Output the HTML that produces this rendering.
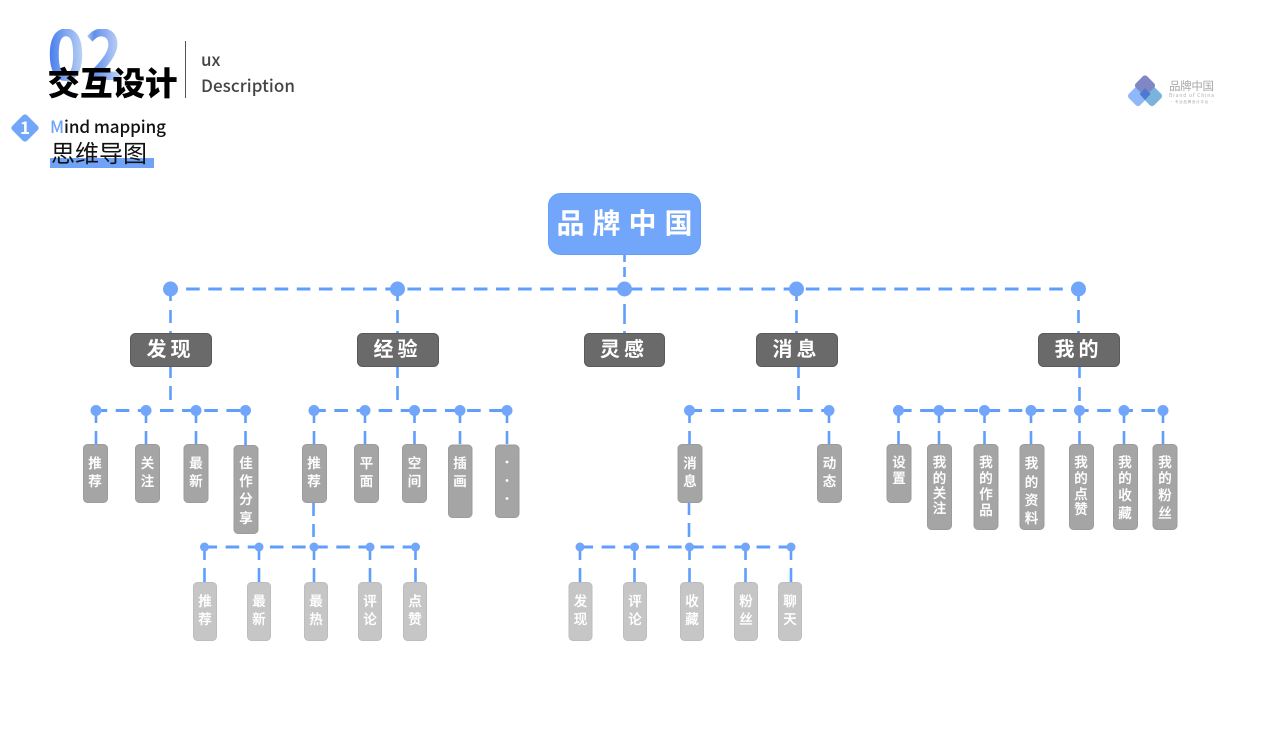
<!DOCTYPE html>
<html lang="zh"><head><meta charset="utf-8"><title>交互设计</title>
<style>
html,body{margin:0;padding:0;background:#fff;width:1280px;height:744px;overflow:hidden}
svg{display:block}
text{font-family:"Noto Sans CJK SC","Liberation Sans",sans-serif}
.d{stroke:#5f9ffb;stroke-width:3;fill:none;stroke-dasharray:13.6 8.53}
.v{stroke:#5f9ffb;stroke-width:2.6;fill:none}
.c{fill:#71a6fa}
.l1{fill:#6a6a6a;stroke:#5a5a5a;stroke-width:1}
.l2{fill:#a5a5a5;stroke:#9c9c9c;stroke-width:1}
.l3{fill:#c6c6c6;stroke:#bdbdbd;stroke-width:1}
.t1{fill:#fff;font-size:20px;font-weight:700;text-anchor:middle;letter-spacing:4px}
.t{fill:#fff;stroke:#fff;stroke-width:.2;font-size:13.5px;font-weight:500;text-anchor:middle}
</style></head><body>
<svg width="1280" height="744" viewBox="0 0 1280 744" xmlns="http://www.w3.org/2000/svg">
<defs>
<linearGradient id="g" x1="0" y1="0" x2="1" y2="0"><stop offset="0" stop-color="#3f78ee"/><stop offset=".5" stop-color="#c3d6f3"/><stop offset=".62" stop-color="#5f8fec"/><stop offset="1" stop-color="#cfdcf5"/></linearGradient>
<clipPath id="cl"><rect x="40" y="29" width="90" height="60"/></clipPath>
</defs>

<!-- header -->
<g clip-path="url(#cl)"><text x="47" y="80" font-size="68" font-weight="700" fill="url(#g)" textLength="76" lengthAdjust="spacingAndGlyphs">02</text></g>
<text x="47.500" y="95" font-size="32.500" font-weight="900" fill="#000">交互设计</text>
<rect x="185" y="41" width="1" height="57" fill="#555"/>
<text x="201" y="66" font-size="17" font-weight="500" fill="#444">ux</text>
<text x="201" y="92" font-size="17" font-weight="500" fill="#444" textLength="94">Description</text>
<rect x="14.500" y="117.500" width="21" height="21" rx="3" fill="#71a6fa" transform="rotate(45 25 128)"/>
<text x="25" y="134" font-size="17" font-weight="700" fill="#fff" text-anchor="middle">1</text>
<rect x="50" y="158" width="104" height="10" fill="#6fa3f7"/>
<text x="50" y="133" font-size="17" font-weight="500" fill="#111" textLength="116"><tspan fill="#6fa3f7">M</tspan>ind mapping</text>
<text x="51" y="162" font-size="24" font-weight="400" fill="#111">思维导图</text>

<!-- logo -->
<g>
<rect x="1130" y="88" width="16" height="16" rx="3" fill="#8fb8fb" transform="rotate(45 1138 96)"/>
<rect x="1144" y="88" width="16" height="16" rx="3" fill="#7ab3dc" transform="rotate(45 1152 96)"/>
<rect x="1137" y="77.500" width="16" height="16" rx="3" fill="#7f88c4" transform="rotate(45 1145 85.500)"/>
<path d="M1145 88 L1150.500 94 L1145 100 L1139.500 94Z" fill="#4f78d0"/>
<text x="1169" y="90" font-size="11.500" fill="#a8a8a8" textLength="45">品牌中国</text>
<text x="1169" y="97" font-size="5" fill="#b0b0b0" textLength="45">Brand of China</text>
<text x="1191.500" y="103" font-size="3.500" fill="#aaa" text-anchor="middle" textLength="45">— 专业品牌设计平台 —</text>
</g>

<!-- connectors L0 -->
<path class="d" d="M164 289H1078"/>
<path class="v" d="M624.500 255V262M624.500 267V277M624.500 304V324M624.500 331V333"/>
<path class="v" d="M170.500 296V301M170.500 310V323M170.500 331V333M397.500 296V301M397.500 310V323M397.500 331V333M796.500 296V301M796.500 310V323M796.500 331V333M1078.500 296V301M1078.500 310V323M1078.500 331V333"/>
<g class="c">
<circle cx="170.500" cy="289" r="7.500"/><circle cx="397.500" cy="289" r="7.500"/><circle cx="624.500" cy="289" r="7.500"/><circle cx="796.500" cy="289" r="7.500"/><circle cx="1078.500" cy="289" r="7.500"/>
</g>

<!-- root -->
<rect x="548.500" y="193.500" width="152" height="61" rx="12" fill="#71a6fa" stroke="#64a0fb"/>
<text x="628.500" y="233" font-size="28" font-weight="700" fill="#fff" text-anchor="middle" letter-spacing="8">品牌中国</text>

<!-- L1 -->
<rect class="l1" x="130.500" y="333.500" width="81" height="33" rx="5"/>
<rect class="l1" x="357.500" y="333.500" width="81" height="33" rx="5"/>
<rect class="l1" x="584.500" y="333.500" width="80" height="33" rx="5"/>
<rect class="l1" x="756.500" y="333.500" width="81" height="33" rx="5"/>
<rect class="l1" x="1038.500" y="333.500" width="81" height="33" rx="5"/>
<text class="t1" x="170.500" y="356">发现</text>
<text class="t1" x="397.500" y="356">经验</text>
<text class="t1" x="624" y="356">灵感</text>
<text class="t1" x="796.500" y="356">消息</text>
<text class="t1" x="1078.500" y="356">我的</text>

<!-- L1 to L2 stems -->
<path class="v" d="M170.500 367V378M170.500 386V400M397.500 367V378M397.500 386V400M798.500 367V378M798.500 386V400M1079.500 367V378M1079.500 387V401"/>

<!-- L2 lines -->
<path class="d" d="M93.600 410.500H246"/>
<path class="d" d="M312.200 410.500H507"/>
<path class="d" d="M688.500 410.500H829"/>
<path class="d" d="M898 410.500H1163"/>
<path class="v" d="M96 411V423M96 431V444M146 411V423M146 431V444M196 411V423M196 431V444M245.500 411V423M245.500 431V445M314 411V423M314 431V444M365 411V423M365 431V444M414.500 411V423M414.500 431V444M460 411V423M460 431V444M507 411V423M507 431V444M689.500 411V423M689.500 431V444M829 411V423M829 431V444M898.500 411V423M898.500 431V444M939 411V423M939 431V444M984.500 411V423M984.500 431V444M1031 411V423M1031 431V444M1079.500 411V423M1079.500 431V444M1124 411V423M1124 431V444M1163 411V423M1163 431V444"/>
<g class="c">
<circle cx="96" cy="410.500" r="5.500"/><circle cx="146" cy="410.500" r="5.500"/><circle cx="196" cy="410.500" r="5.500"/><circle cx="245.500" cy="410.500" r="5.500"/>
<circle cx="314" cy="410.500" r="5.500"/><circle cx="365" cy="410.500" r="5.500"/><circle cx="414.500" cy="410.500" r="5.500"/><circle cx="460" cy="410.500" r="5.500"/><circle cx="507" cy="410.500" r="5.500"/>
<circle cx="689.500" cy="410.500" r="5.500"/><circle cx="829" cy="410.500" r="5.500"/>
<circle cx="898.500" cy="410.500" r="5.500"/><circle cx="939" cy="410.500" r="5.500"/><circle cx="984.500" cy="410.500" r="5.500"/><circle cx="1031" cy="410.500" r="5.500"/><circle cx="1079.500" cy="410.500" r="5.500"/><circle cx="1124" cy="410.500" r="5.500"/><circle cx="1163" cy="410.500" r="5.500"/>
</g>

<!-- L2 boxes -->
<g class="l2">
<rect x="83.500" y="444.500" width="24" height="58" rx="4"/><rect x="135.500" y="444.500" width="24" height="58" rx="4"/><rect x="184" y="444.500" width="24" height="58" rx="4"/><rect x="234" y="445.500" width="24" height="88" rx="4"/>
<rect x="302.500" y="444.500" width="24" height="58" rx="4"/><rect x="354.500" y="444.500" width="24" height="58" rx="4"/><rect x="402.500" y="444.500" width="24" height="58" rx="4"/><rect x="448.500" y="445" width="23.500" height="72.500" rx="4"/><rect x="495.500" y="445" width="23.500" height="72.500" rx="4"/>
<rect x="678" y="444.500" width="24" height="58" rx="4"/><rect x="817.500" y="444.500" width="24" height="58" rx="4"/>
<rect x="887" y="444.500" width="24" height="58" rx="4"/><rect x="927.500" y="444.500" width="24" height="85" rx="4"/><rect x="974" y="444.500" width="24" height="85" rx="4"/><rect x="1020" y="444.500" width="24" height="85" rx="4"/><rect x="1069.500" y="444.500" width="24" height="85" rx="4"/><rect x="1113.500" y="444.500" width="24" height="85" rx="4"/><rect x="1153" y="444.500" width="24" height="85" rx="4"/>
</g>
<text class="t"><tspan x="95" y="468">推</tspan><tspan x="95" y="486">荐</tspan></text>
<text class="t"><tspan x="147.500" y="468">关</tspan><tspan x="147.500" y="486">注</tspan></text>
<text class="t"><tspan x="196" y="468">最</tspan><tspan x="196" y="486">新</tspan></text>
<text class="t"><tspan x="246" y="468">佳</tspan><tspan x="246" y="486">作</tspan><tspan x="246" y="504">分</tspan><tspan x="246" y="523">享</tspan></text>
<text class="t"><tspan x="314" y="468">推</tspan><tspan x="314" y="486">荐</tspan></text>
<text class="t"><tspan x="366.500" y="468">平</tspan><tspan x="366.500" y="486">面</tspan></text>
<text class="t"><tspan x="414.500" y="468">空</tspan><tspan x="414.500" y="486">间</tspan></text>
<text class="t"><tspan x="460" y="468">插</tspan><tspan x="460" y="486">画</tspan></text>
<g fill="#fff"><circle cx="507" cy="462" r="1.400"/><circle cx="507" cy="480.500" r="1.400"/><circle cx="507" cy="498.500" r="1.400"/></g>
<text class="t"><tspan x="690" y="468">消</tspan><tspan x="690" y="486">息</tspan></text>
<text class="t"><tspan x="829.500" y="468">动</tspan><tspan x="829.500" y="486">态</tspan></text>
<text class="t"><tspan x="899" y="467">设</tspan><tspan x="899" y="483">置</tspan></text>
<text class="t"><tspan x="939.500" y="467">我</tspan><tspan x="939.500" y="483">的</tspan><tspan x="939.500" y="498">关</tspan><tspan x="939.500" y="513">注</tspan></text>
<text class="t"><tspan x="986" y="467">我</tspan><tspan x="986" y="483">的</tspan><tspan x="986" y="499">作</tspan><tspan x="986" y="515">品</tspan></text>
<text class="t"><tspan x="1031.500" y="468">我</tspan><tspan x="1031.500" y="487">的</tspan><tspan x="1031.500" y="505">资</tspan><tspan x="1031.500" y="523">料</tspan></text>
<text class="t"><tspan x="1081" y="467">我</tspan><tspan x="1081" y="483">的</tspan><tspan x="1081" y="499">点</tspan><tspan x="1081" y="514">赞</tspan></text>
<text class="t"><tspan x="1125" y="467">我</tspan><tspan x="1125" y="483">的</tspan><tspan x="1125" y="500">收</tspan><tspan x="1125" y="518">藏</tspan></text>
<text class="t"><tspan x="1165" y="467">我</tspan><tspan x="1165" y="483">的</tspan><tspan x="1165" y="500">粉</tspan><tspan x="1165" y="518">丝</tspan></text>

<!-- L2 to L3 -->
<path class="v" d="M313.500 503V516M313.500 524V537M689 503V515M689 523V537"/>

<!-- L3 lines -->
<path class="d" d="M203.500 547H415"/>
<path class="d" d="M579.500 547H791"/>
<path class="v" d="M204.500 548V560M204.500 568V582M259 548V560M259 568V582M314 548V560M314 568V582M370 548V560M370 568V582M415.500 548V560M415.500 568V582M580 548V560M580 568V582M634.500 548V560M634.500 568V582M689.500 548V560M689.500 568V582M745.500 548V560M745.500 568V582M791 548V560M791 568V582"/>
<g class="c">
<circle cx="204.500" cy="547" r="4.500"/><circle cx="259" cy="547" r="4.500"/><circle cx="314" cy="547" r="4.500"/><circle cx="370" cy="547" r="4.500"/><circle cx="415.500" cy="547" r="4.500"/>
<circle cx="580" cy="547" r="4.500"/><circle cx="634.500" cy="547" r="4.500"/><circle cx="689.500" cy="547" r="4.500"/><circle cx="745.500" cy="547" r="4.500"/><circle cx="791" cy="547" r="4.500"/>
</g>

<!-- L3 boxes -->
<g class="l3">
<rect x="193.500" y="582.500" width="23" height="58" rx="4"/><rect x="247.500" y="582.500" width="23" height="58" rx="4"/><rect x="304.500" y="582.500" width="23" height="58" rx="4"/><rect x="358.500" y="582.500" width="23" height="58" rx="4"/><rect x="403.500" y="582.500" width="23" height="58" rx="4"/>
<rect x="569" y="582.500" width="23" height="58" rx="4"/><rect x="623.500" y="582.500" width="23" height="58" rx="4"/><rect x="680.500" y="582.500" width="23" height="58" rx="4"/><rect x="734.500" y="582.500" width="23" height="58" rx="4"/><rect x="778.500" y="582.500" width="23" height="58" rx="4"/>
</g>
<text class="t"><tspan x="205" y="606">推</tspan><tspan x="205" y="624">荐</tspan></text>
<text class="t"><tspan x="259" y="606">最</tspan><tspan x="259" y="624">新</tspan></text>
<text class="t"><tspan x="316" y="606">最</tspan><tspan x="316" y="624">热</tspan></text>
<text class="t"><tspan x="370" y="606">评</tspan><tspan x="370" y="624">论</tspan></text>
<text class="t"><tspan x="415" y="606">点</tspan><tspan x="415" y="624">赞</tspan></text>
<text class="t"><tspan x="580.500" y="606">发</tspan><tspan x="580.500" y="624">现</tspan></text>
<text class="t"><tspan x="635" y="606">评</tspan><tspan x="635" y="624">论</tspan></text>
<text class="t"><tspan x="692" y="606">收</tspan><tspan x="692" y="624">藏</tspan></text>
<text class="t"><tspan x="746" y="606">粉</tspan><tspan x="746" y="624">丝</tspan></text>
<text class="t"><tspan x="790" y="606">聊</tspan><tspan x="790" y="624">天</tspan></text>
</svg>
</body></html>
